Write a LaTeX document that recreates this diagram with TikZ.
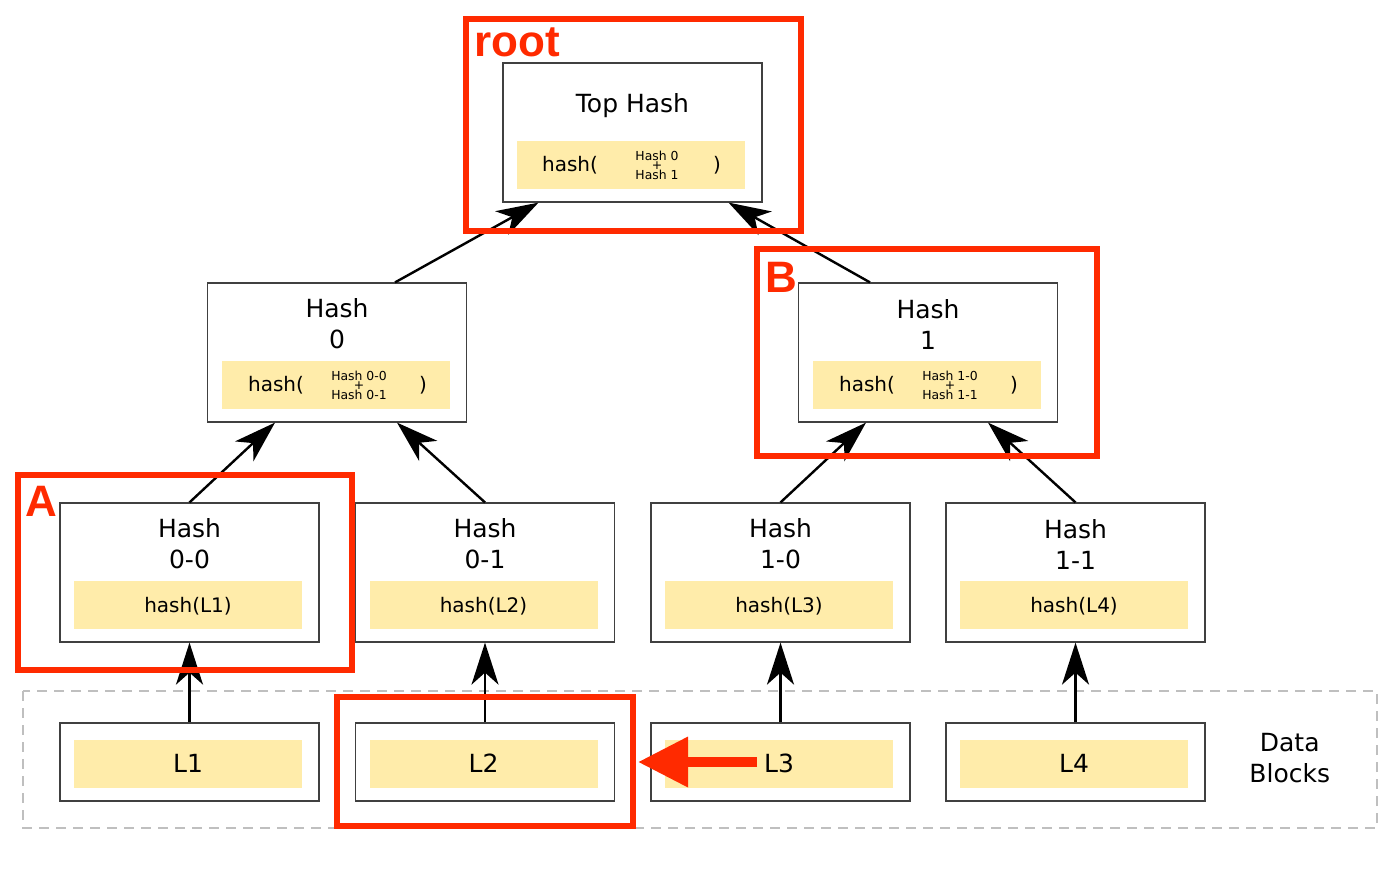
\documentclass[tikz,border=0pt]{standalone}
\usepackage{fontspec}
\setmainfont{DejaVu Sans}
\newfontfamily\markfont{Liberation Sans}
\usetikzlibrary{arrows.meta}
\definecolor{barfill}{RGB}{255,236,170}
\definecolor{markred}{RGB}{255,42,0}

\begin{document}
\begin{tikzpicture}[x=0.5pt,y=-0.5pt,
  hashbox/.style={draw=black!75,line width=0.6pt,minimum width=129.5pt,minimum height=69.5pt,inner sep=0},
  databox/.style={draw=black!75,line width=0.6pt,minimum width=129.5pt,minimum height=39pt,inner sep=0},
  bar/.style={fill=barfill,minimum width=114pt,minimum height=24pt,inner sep=0},
  title/.style={align=center,inner sep=0,font=\fontsize{12.5}{15.5}\selectfont},
  small/.style={align=center,inner sep=0,font=\fontsize{6.2}{4.75}\selectfont},
  hashtxt/.style={inner sep=0,font=\fontsize{10}{12}\selectfont},
  up/.style={line width=1.2pt,-{Stealth[length=21pt,width=13.5pt,inset=6pt]}},
  redframe/.style={draw=markred,line width=3pt},
  redtxt/.style={inner sep=0,text=markred,font=\markfont\bfseries\fontsize{22}{26}\selectfont}]
  \useasboundingbox (0,0) rectangle (1400,890);

  % data blocks frame
  \draw[gray!50,line width=1pt,dash pattern=on 5pt off 3.5pt] (23,691) rectangle (1377,828);
  \node[title,anchor=west] (lbl) at (1249,758) {Data\\Blocks};

  % top hash
  \node[hashbox] (top) at (632.5,132.5) {};
  \node[title,anchor=base] (ttop) at (632.5,112) {Top Hash};
  \node[bar] (btop) at (631,165) {};
  \node[hashtxt] at ([xshift=-30.5pt]btop.center) {hash(};
  \node[small] at ([xshift=13pt]btop.center) {Hash 0\\+\\Hash 1};
  \node[hashtxt] at ([xshift=43pt]btop.center) {)};

  % level 1
  \foreach \n/\x/\k in {h0/337/0, h1/928/1}{
    \node[hashbox] (\n) at (\x,352.5) {};
    \node[title] at (\x,324) {Hash\\\k};
    \node[bar] (b\n) at (\x-1,385) {};
    \node[hashtxt] at ([xshift=-30pt]b\n.center) {hash(};
    \node[small] at ([xshift=11.5pt]b\n.center) {Hash \k-0\\+\\Hash \k-1};
    \node[hashtxt] at ([xshift=43.5pt]b\n.center) {)};
  }

  % leaves and data blocks
  \foreach \i/\x/\lab in {1/189.5/0-0, 2/485/0-1, 3/780.5/1-0, 4/1075.5/1-1}{
    \node[hashbox] (l\i) at (\x,572.5) {};
    \node[title] at (\x,544) {Hash\\\lab};
    \node[bar] at (\x-1.5,605) {};
    \node[hashtxt] at (\x-1.5,606) {hash(L\i)};
    \node[databox] (d\i) at (\x,762) {};
    \node[bar] (e\i) at (\x-1.5,763.5) {};
    \node[inner sep=0,font=\fontsize{12.5}{14}\selectfont] at (\x-1.5,763.5) {L\i};
    \draw[up] (d\i.north) -- (l\i.south);
  }

  % tree arrows
  \draw[up] ([xshift=29pt]h0.north) -- ([xshift=-47pt]top.south);
  \draw[up] ([xshift=-29pt]h1.north) -- ([xshift=48pt]top.south);
  \draw[up] (l1.north) -- ([xshift=-31pt]h0.south);
  \draw[up] (l2.north) -- ([xshift=30pt]h0.south);
  \draw[up] (l3.north) -- ([xshift=-31pt]h1.south);
  \draw[up] (l4.north) -- ([xshift=30pt]h1.south);

  % red marks
  \draw[redframe] (466,19) rectangle (801,231);
  \draw[redframe] (757,249) rectangle (1097,456);
  \draw[redframe] (18,475) rectangle (352,670);
  \draw[redframe] (337,697) rectangle (633,826);
  \node[redtxt,anchor=base west] (troot) at (474,56) {root};
  \node[redtxt,anchor=base west] (tb) at (765,292) {B};
  \node[redtxt,anchor=base west] (ta) at (25,516) {A};
  \coordinate (rs) at (757,762);
  \coordinate (re) at (638,762);
  \draw[markred,line width=5pt,-{Triangle[length=25pt,width=24pt]}] (rs) -- (re);
\end{tikzpicture}
\end{document}
